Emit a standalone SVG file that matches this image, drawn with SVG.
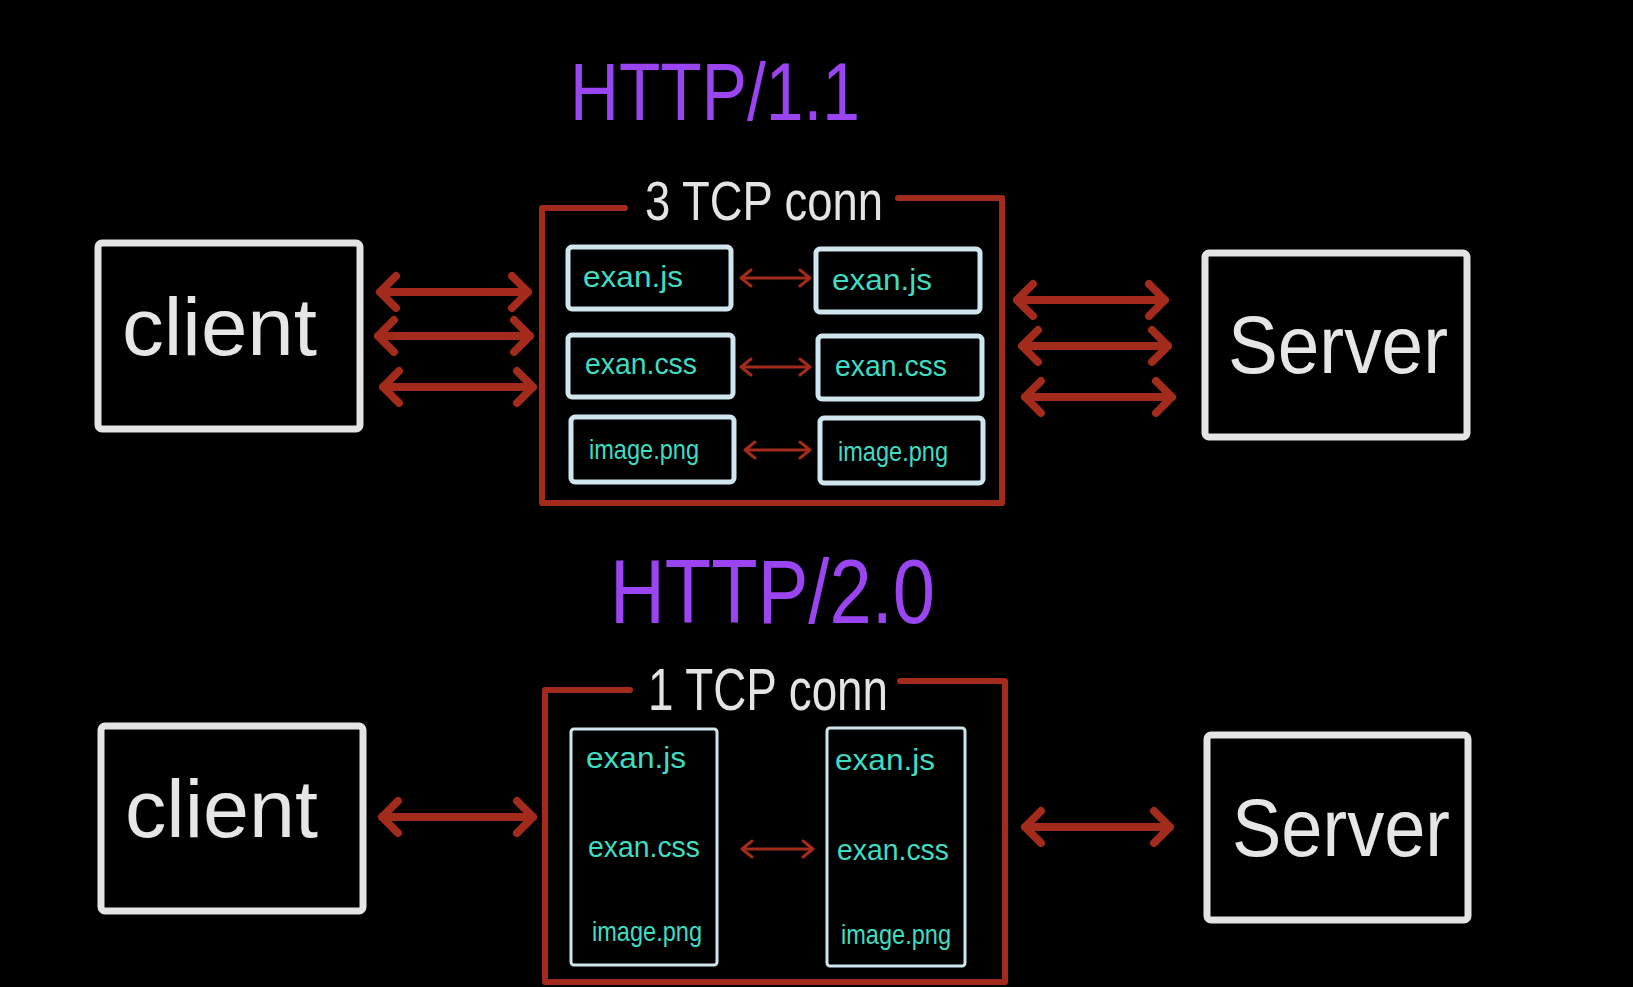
<svg xmlns="http://www.w3.org/2000/svg" width="1633" height="987" viewBox="0 0 1633 987">
<style>
.bg{fill:#000}
.node{fill:#000;stroke:#e4e4e4;stroke-width:7;stroke-linejoin:round}
.inner{fill:#000;stroke:#cfe6ee;stroke-width:5;stroke-linejoin:round}
.inner2{fill:#000;stroke:#cfe6ee;stroke-width:3;stroke-linejoin:round}
.conn{fill:none;stroke:#a22b1c;stroke-width:6;stroke-linejoin:round;stroke-linecap:round}
.thick{fill:none;stroke:#a22b1c;stroke-width:8;stroke-linecap:round;stroke-linejoin:round}
.thin{fill:none;stroke:#a22b1c;stroke-width:3;stroke-linecap:round;stroke-linejoin:round}
.title{font-family:"Liberation Sans",Arial,sans-serif;fill:#9a44f2}
.label{font-family:"Liberation Sans",Arial,sans-serif;fill:#e4e4e4}
.big{font-family:"Liberation Sans",Arial,sans-serif;fill:#e6e6e6}
.file{font-family:"Liberation Sans",Arial,sans-serif;fill:#3fdcc2;font-size:30px}
.png{font-size:28px}
</style>
<rect class="bg" x="0" y="0" width="1633" height="987"/>

<g id="title-http11"><text class="title" x="570" y="120" font-size="82" textLength="290" lengthAdjust="spacingAndGlyphs">HTTP/1.1</text></g>
<g id="title-http20"><text class="title" x="610" y="623" font-size="90" textLength="325" lengthAdjust="spacingAndGlyphs">HTTP/2.0</text></g>

<g id="tcp-group-1">
<path class="conn" d="M625 208 H542 V503 H1002 V198 H898"/>
<text class="label" x="645" y="220" font-size="56" textLength="238" lengthAdjust="spacingAndGlyphs">3 TCP conn</text>
</g>
<g id="tcp-group-2">
<path class="conn" d="M630 690 H545 V982 H1005 V681 H900"/>
<text class="label" x="648" y="710" font-size="60" textLength="240" lengthAdjust="spacingAndGlyphs">1 TCP conn</text>
</g>

<g id="client1"><rect class="node" x="98" y="243" width="262" height="186" rx="4"/><text class="big" x="122" y="355" font-size="82" textLength="195" lengthAdjust="spacingAndGlyphs">client</text></g>
<g id="server1"><rect class="node" x="1205" y="253" width="262" height="184" rx="4"/><text class="big" x="1228" y="373" font-size="82" textLength="220" lengthAdjust="spacingAndGlyphs">Server</text></g>
<g id="client2"><rect class="node" x="101" y="726" width="262" height="185" rx="4"/><text class="big" x="125" y="837" font-size="82" textLength="193" lengthAdjust="spacingAndGlyphs">client</text></g>
<g id="server2"><rect class="node" x="1207" y="735" width="261" height="185" rx="4"/><text class="big" x="1232" y="856" font-size="82" textLength="218" lengthAdjust="spacingAndGlyphs">Server</text></g>

<g id="c-js-1"><rect class="inner" x="568" y="247" width="163" height="62" rx="4"/><text class="file" x="583" y="287" textLength="100" lengthAdjust="spacingAndGlyphs">exan.js</text></g>
<g id="c-css-1"><rect class="inner" x="568" y="335" width="165" height="62" rx="4"/><text class="file" x="585" y="374" textLength="112" lengthAdjust="spacingAndGlyphs">exan.css</text></g>
<g id="c-png-1"><rect class="inner" x="571" y="417" width="163" height="65" rx="4"/><text class="file png" x="589" y="459" textLength="110" lengthAdjust="spacingAndGlyphs">image.png</text></g>
<g id="s-js-1"><rect class="inner" x="816" y="249" width="164" height="63" rx="4"/><text class="file" x="832" y="290" textLength="100" lengthAdjust="spacingAndGlyphs">exan.js</text></g>
<g id="s-css-1"><rect class="inner" x="818" y="336" width="164" height="63" rx="4"/><text class="file" x="835" y="376" textLength="112" lengthAdjust="spacingAndGlyphs">exan.css</text></g>
<g id="s-png-1"><rect class="inner" x="820" y="418" width="163" height="65" rx="4"/><text class="file png" x="838" y="461" textLength="110" lengthAdjust="spacingAndGlyphs">image.png</text></g>

<g id="c-stack-2"><rect class="inner2" x="571" y="729" width="146" height="236" rx="3"/>
<text class="file" x="586" y="768" textLength="100" lengthAdjust="spacingAndGlyphs">exan.js</text>
<text class="file" x="588" y="857" textLength="112" lengthAdjust="spacingAndGlyphs">exan.css</text>
<text class="file png" x="592" y="941" textLength="110" lengthAdjust="spacingAndGlyphs">image.png</text></g>
<g id="s-stack-2"><rect class="inner2" x="827" y="728" width="138" height="238" rx="3"/>
<text class="file" x="835" y="770" textLength="100" lengthAdjust="spacingAndGlyphs">exan.js</text>
<text class="file" x="837" y="860" textLength="112" lengthAdjust="spacingAndGlyphs">exan.css</text>
<text class="file png" x="841" y="944" textLength="110" lengthAdjust="spacingAndGlyphs">image.png</text></g>

<g id="connectors">
<path class="thick" d="M380 292 H528 M396 276 L380 292 L396 308 M512 276 L528 292 L512 308"/>
<path class="thick" d="M378 336 H530 M394 320 L378 336 L394 352 M514 320 L530 336 L514 352"/>
<path class="thick" d="M383 387 H533 M399 371 L383 387 L399 403 M517 371 L533 387 L517 403"/>
<path class="thick" d="M1017 300 H1165 M1033 284 L1017 300 L1033 316 M1149 284 L1165 300 L1149 316"/>
<path class="thick" d="M1022 346 H1168 M1038 330 L1022 346 L1038 362 M1152 330 L1168 346 L1152 362"/>
<path class="thick" d="M1025 397 H1172 M1041 381 L1025 397 L1041 413 M1156 381 L1172 397 L1156 413"/>
<path class="thick" d="M382 817 H533 M398 801 L382 817 L398 833 M517 801 L533 817 L517 833"/>
<path class="thick" d="M1025 827 H1170 M1041 811 L1025 827 L1041 843 M1154 811 L1170 827 L1154 843"/>
<path class="thin" d="M741 278 H810 M751 270 L741 278 L751 286 M800 270 L810 278 L800 286"/>
<path class="thin" d="M741 367 H810 M751 359 L741 367 L751 375 M800 359 L810 367 L800 375"/>
<path class="thin" d="M745 450 H810 M755 442 L745 450 L755 458 M800 442 L810 450 L800 458"/>
<path class="thin" d="M742 849 H813 M752 841 L742 849 L752 857 M803 841 L813 849 L803 857"/>
</g>
</svg>
